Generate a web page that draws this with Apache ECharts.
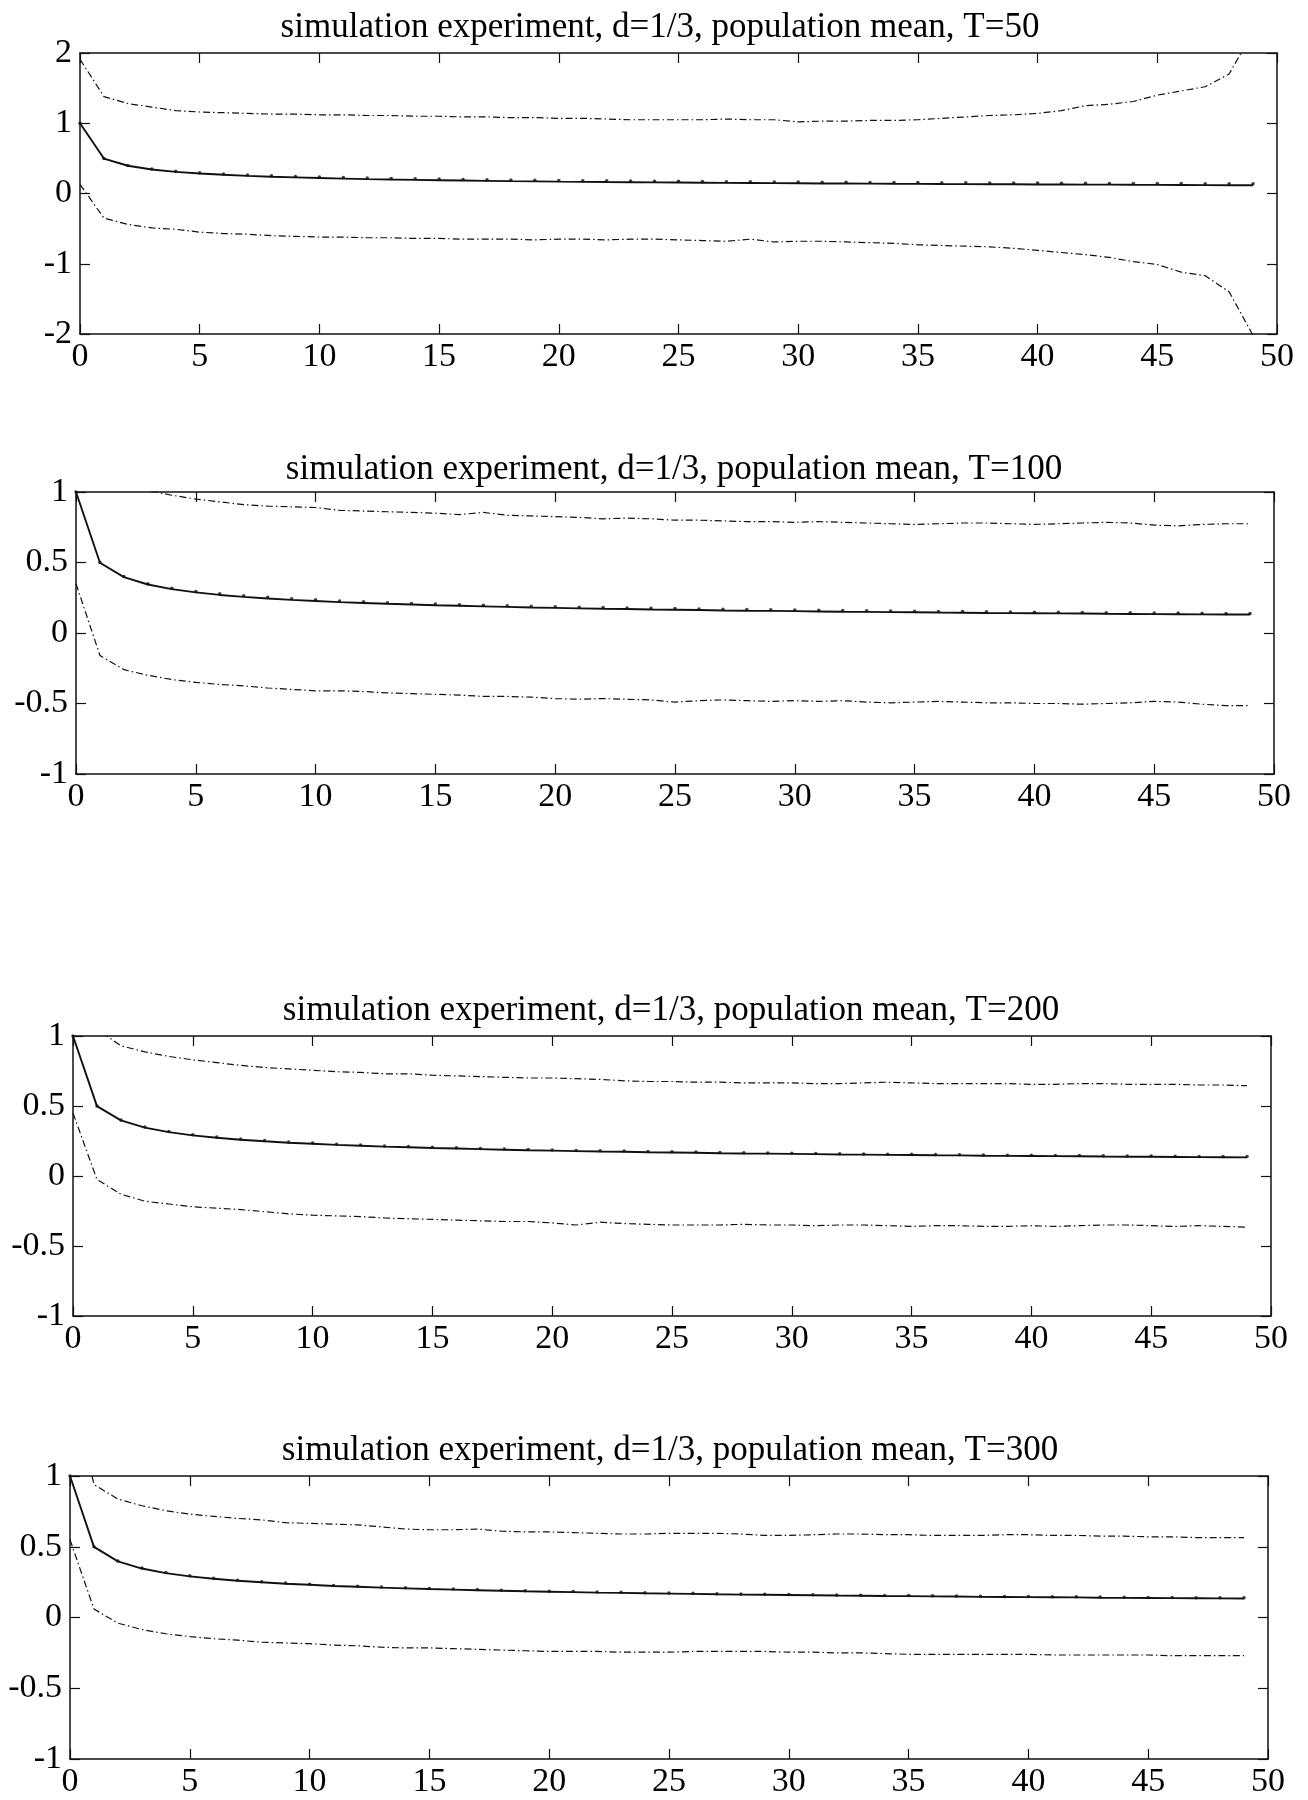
<!DOCTYPE html>
<html>
<head>
<meta charset="utf-8">
<title>simulation experiment, d=1/3, population mean</title>
<script src="https://cdn.jsdelivr.net/npm/echarts@6/dist/echarts.min.js"></script>
<style>
  html, body { margin: 0; padding: 0; background: #ffffff; }
  #chart { width: 1308px; height: 1800px; }
</style>
</head>
<body>
<div id="chart"></div>
<script>
// Lags 0..49 shared by every panel
const lags = [0, 1, 2, 3, 4, 5, 6, 7, 8, 9, 10, 11, 12, 13, 14, 15, 16, 17, 18, 19,
  20, 21, 22, 23, 24, 25, 26, 27, 28, 29, 30, 31, 32, 33, 34, 35, 36, 37, 38, 39,
  40, 41, 42, 43, 44, 45, 46, 47, 48, 49];

// Population autocorrelation (dotted markers)
const popMean = [1.000, 0.500, 0.400, 0.350, 0.318, 0.295, 0.278, 0.264, 0.253, 0.243,
  0.235, 0.227, 0.221, 0.215, 0.210, 0.205, 0.201, 0.197, 0.193, 0.189,
  0.186, 0.183, 0.180, 0.178, 0.175, 0.173, 0.171, 0.168, 0.166, 0.165,
  0.163, 0.161, 0.159, 0.158, 0.156, 0.155, 0.153, 0.152, 0.150, 0.149,
  0.148, 0.147, 0.146, 0.144, 0.143, 0.142, 0.141, 0.140, 0.139, 0.139];

// T = 50
const mean50 = [1.000, 0.497, 0.395, 0.342, 0.308, 0.284, 0.266, 0.251, 0.239, 0.229,
  0.220, 0.212, 0.205, 0.199, 0.194, 0.189, 0.184, 0.180, 0.176, 0.173,
  0.169, 0.166, 0.163, 0.161, 0.158, 0.156, 0.154, 0.151, 0.149, 0.147,
  0.145, 0.143, 0.142, 0.140, 0.138, 0.137, 0.135, 0.134, 0.132, 0.131,
  0.129, 0.128, 0.127, 0.126, 0.124, 0.123, 0.121, 0.119, 0.118, 0.118];
const upper50 = [1.91, 1.38, 1.28, 1.23, 1.18, 1.16, 1.15, 1.14, 1.13, 1.13,
  1.12, 1.12, 1.11, 1.11, 1.10, 1.10, 1.09, 1.09, 1.08, 1.08,
  1.07, 1.07, 1.06, 1.05, 1.05, 1.05, 1.05, 1.06, 1.05, 1.05,
  1.02, 1.03, 1.03, 1.04, 1.04, 1.05, 1.07, 1.09, 1.11, 1.12,
  1.14, 1.18, 1.25, 1.27, 1.31, 1.40, 1.46, 1.52, 1.70, 2.30];
const lower50 = [0.13, -0.35, -0.44, -0.49, -0.51, -0.55, -0.57, -0.58, -0.60, -0.61,
  -0.62, -0.62, -0.63, -0.63, -0.64, -0.64, -0.65, -0.65, -0.65, -0.66,
  -0.65, -0.65, -0.66, -0.65, -0.65, -0.66, -0.67, -0.68, -0.65, -0.69,
  -0.68, -0.68, -0.69, -0.70, -0.71, -0.73, -0.74, -0.75, -0.76, -0.78,
  -0.81, -0.84, -0.87, -0.91, -0.97, -1.01, -1.12, -1.17, -1.40, -2.02];

// T = 100
const mean100 = [1.000, 0.498, 0.396, 0.344, 0.311, 0.288, 0.270, 0.256, 0.245, 0.235,
  0.227, 0.219, 0.213, 0.207, 0.202, 0.197, 0.193, 0.189, 0.185, 0.181,
  0.178, 0.175, 0.172, 0.170, 0.167, 0.165, 0.163, 0.160, 0.158, 0.157,
  0.155, 0.153, 0.151, 0.150, 0.148, 0.147, 0.145, 0.144, 0.142, 0.141,
  0.140, 0.139, 0.138, 0.136, 0.135, 0.134, 0.133, 0.132, 0.131, 0.131];
const upper100 = [1.65, 1.15, 1.04, 1.01, 0.977, 0.95, 0.93, 0.91, 0.90, 0.895,
  0.89, 0.87, 0.865, 0.86, 0.855, 0.85, 0.84, 0.855, 0.835, 0.83,
  0.825, 0.82, 0.81, 0.815, 0.81, 0.80, 0.80, 0.795, 0.79, 0.79,
  0.785, 0.79, 0.785, 0.78, 0.775, 0.77, 0.775, 0.78, 0.78, 0.775,
  0.77, 0.775, 0.78, 0.785, 0.78, 0.765, 0.76, 0.77, 0.775, 0.775];
const lower100 = [0.35, -0.16, -0.26, -0.30, -0.33, -0.35, -0.365, -0.375, -0.39, -0.40,
  -0.41, -0.41, -0.415, -0.425, -0.43, -0.435, -0.44, -0.45, -0.45, -0.455,
  -0.465, -0.47, -0.465, -0.47, -0.475, -0.49, -0.48, -0.475, -0.48, -0.485,
  -0.48, -0.485, -0.48, -0.49, -0.495, -0.49, -0.485, -0.49, -0.495, -0.495,
  -0.50, -0.50, -0.505, -0.50, -0.495, -0.485, -0.49, -0.505, -0.515, -0.515];

// T = 200
const mean200 = [1.000, 0.499, 0.397, 0.346, 0.313, 0.290, 0.273, 0.259, 0.248, 0.238,
  0.230, 0.222, 0.216, 0.210, 0.205, 0.200, 0.196, 0.192, 0.188, 0.184,
  0.181, 0.178, 0.175, 0.173, 0.170, 0.168, 0.166, 0.163, 0.161, 0.160,
  0.158, 0.156, 0.154, 0.153, 0.151, 0.150, 0.148, 0.147, 0.145, 0.144,
  0.143, 0.142, 0.141, 0.139, 0.138, 0.137, 0.136, 0.135, 0.134, 0.133];
const upper200 = [1.60, 1.05, 0.93, 0.887, 0.854, 0.83, 0.81, 0.79, 0.775, 0.765,
  0.755, 0.745, 0.74, 0.73, 0.73, 0.72, 0.715, 0.71, 0.705, 0.70,
  0.70, 0.695, 0.69, 0.68, 0.675, 0.675, 0.67, 0.67, 0.665, 0.665,
  0.665, 0.66, 0.66, 0.665, 0.67, 0.665, 0.66, 0.66, 0.66, 0.66,
  0.655, 0.655, 0.66, 0.66, 0.655, 0.655, 0.655, 0.65, 0.65, 0.645];
const lower200 = [0.45, -0.025, -0.13, -0.18, -0.20, -0.22, -0.23, -0.24, -0.255, -0.27,
  -0.28, -0.285, -0.29, -0.30, -0.305, -0.31, -0.315, -0.32, -0.325, -0.325,
  -0.335, -0.35, -0.33, -0.34, -0.345, -0.35, -0.35, -0.35, -0.345, -0.35,
  -0.35, -0.355, -0.35, -0.35, -0.355, -0.36, -0.355, -0.355, -0.36, -0.36,
  -0.355, -0.36, -0.355, -0.35, -0.35, -0.355, -0.36, -0.355, -0.36, -0.365];

// T = 300
const mean300 = [1.000, 0.499, 0.397, 0.346, 0.314, 0.291, 0.274, 0.260, 0.249, 0.239,
  0.231, 0.223, 0.217, 0.211, 0.206, 0.201, 0.197, 0.193, 0.189, 0.185,
  0.182, 0.179, 0.176, 0.174, 0.171, 0.169, 0.167, 0.164, 0.162, 0.161,
  0.159, 0.157, 0.155, 0.154, 0.152, 0.151, 0.149, 0.148, 0.146, 0.145,
  0.144, 0.143, 0.142, 0.140, 0.139, 0.138, 0.137, 0.136, 0.135, 0.134];
const upper300 = [1.70, 0.94, 0.837, 0.79, 0.755, 0.73, 0.715, 0.70, 0.69, 0.67,
  0.665, 0.66, 0.655, 0.64, 0.625, 0.62, 0.62, 0.625, 0.61, 0.605,
  0.605, 0.60, 0.595, 0.59, 0.59, 0.595, 0.595, 0.595, 0.59, 0.58,
  0.58, 0.585, 0.59, 0.59, 0.585, 0.585, 0.58, 0.58, 0.58, 0.585,
  0.585, 0.58, 0.58, 0.575, 0.575, 0.57, 0.57, 0.565, 0.565, 0.565];
const lower300 = [0.55, 0.06, -0.04, -0.085, -0.115, -0.135, -0.15, -0.16, -0.175, -0.18,
  -0.185, -0.195, -0.20, -0.21, -0.215, -0.215, -0.22, -0.225, -0.23, -0.235,
  -0.24, -0.24, -0.24, -0.245, -0.245, -0.245, -0.24, -0.24, -0.24, -0.24,
  -0.245, -0.245, -0.25, -0.25, -0.255, -0.26, -0.26, -0.26, -0.26, -0.26,
  -0.26, -0.265, -0.265, -0.265, -0.265, -0.265, -0.27, -0.27, -0.27, -0.27];

// Axis tick values
const xTicks = [0, 5, 10, 15, 20, 25, 30, 35, 40, 45, 50];
const yTicksWide = [-2, -1, 0, 1, 2];
const yTicksNarrow = [-1, -0.5, 0, 0.5, 1];

const titles = [
  'simulation experiment, d=1/3, population mean, T=50',
  'simulation experiment, d=1/3, population mean, T=100',
  'simulation experiment, d=1/3, population mean, T=200',
  'simulation experiment, d=1/3, population mean, T=300'
];

const FONT = "'Liberation Serif', 'Times New Roman', serif";
const INK = '#111111';

// Panel frames (pixels), title anchor and the series drawn in each
const panels = [
  { box: { left: 80, top: 53, width: 1197, height: 281 }, titleX: 660, titleY: 28, mean: mean50, upper: upper50, lower: lower50, yTicks: yTicksWide },
  { box: { left: 76, top: 492, width: 1198, height: 282 }, titleX: 674, titleY: 470, mean: mean100, upper: upper100, lower: lower100, yTicks: yTicksNarrow },
  { box: { left: 73, top: 1036, width: 1198, height: 280 }, titleX: 671, titleY: 1011, mean: mean200, upper: upper200, lower: lower200, yTicks: yTicksNarrow },
  { box: { left: 70, top: 1476, width: 1198, height: 283 }, titleX: 670, titleY: 1451, mean: mean300, upper: upper300, lower: lower300, yTicks: yTicksNarrow }
];

function pairs(ys) { return lags.map(function (x, i) { return [x, ys[i]]; }); }

const grid = [], xAxis = [], yAxis = [], series = [], graphic = [];

panels.forEach(function (p, i) {
  grid.push(Object.assign({ containLabel: false }, p.box));
  const yMin = p.yTicks[0], yMax = p.yTicks[p.yTicks.length - 1];
  const yStep = p.yTicks[1] - p.yTicks[0];
  const axisLine = { show: true, onZero: false, lineStyle: { color: INK, width: 1.5 } };
  const tick = { show: true, inside: true, length: 10, lineStyle: { color: INK, width: 1.2 } };
  const label = { show: true, color: '#000', fontFamily: FONT, fontSize: 34 };

  // bottom and top x axes
  xAxis.push({ type: 'value', gridIndex: i, position: 'bottom', min: xTicks[0], max: xTicks[xTicks.length - 1],
    interval: xTicks[1] - xTicks[0], axisLine: axisLine, axisTick: tick, splitLine: { show: false },
    axisLabel: Object.assign({ margin: 6 }, label) });
  xAxis.push({ type: 'value', gridIndex: i, position: 'top', min: xTicks[0], max: xTicks[xTicks.length - 1],
    interval: xTicks[1] - xTicks[0], axisLine: axisLine, axisTick: tick, splitLine: { show: false },
    axisLabel: { show: false } });
  // left and right y axes
  yAxis.push({ type: 'value', gridIndex: i, position: 'left', min: yMin, max: yMax, interval: yStep,
    axisLine: axisLine, axisTick: tick, splitLine: { show: false },
    axisLabel: Object.assign({ margin: 8 }, label) });
  yAxis.push({ type: 'value', gridIndex: i, position: 'right', min: yMin, max: yMax, interval: yStep,
    axisLine: axisLine, axisTick: tick, splitLine: { show: false }, axisLabel: { show: false } });

  const xi = i * 2, yi = i * 2;
  const band = { color: INK, width: 1.2, type: [7, 3, 1.5, 3] };
  series.push({ type: 'line', xAxisIndex: xi, yAxisIndex: yi, data: pairs(p.upper), symbol: 'none',
    lineStyle: band, clip: true, silent: true, animation: false });
  series.push({ type: 'line', xAxisIndex: xi, yAxisIndex: yi, data: pairs(p.lower), symbol: 'none',
    lineStyle: band, clip: true, silent: true, animation: false });
  series.push({ type: 'line', xAxisIndex: xi, yAxisIndex: yi, data: pairs(p.mean), symbol: 'none',
    lineStyle: { color: INK, width: 1.9, type: 'solid' }, clip: true, silent: true, animation: false });
  series.push({ type: 'scatter', xAxisIndex: xi, yAxisIndex: yi, data: pairs(popMean), symbol: 'circle',
    symbolSize: 3.5, itemStyle: { color: INK }, silent: true, animation: false });

  graphic.push({ type: 'text', x: p.titleX, y: p.titleY,
    style: { text: titles[i], fill: '#000', font: '35px ' + FONT, textAlign: 'center', textVerticalAlign: 'middle' } });
});

const chart = echarts.init(document.getElementById('chart'), null, { renderer: 'canvas' });
chart.setOption({
  backgroundColor: '#ffffff',
  animation: false,
  grid: grid,
  xAxis: xAxis,
  yAxis: yAxis,
  series: series,
  graphic: graphic
});
</script>
</body>
</html>
